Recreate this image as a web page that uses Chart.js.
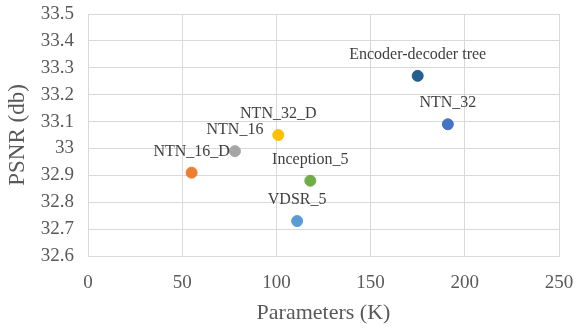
<!DOCTYPE html>
<html>
<head>
  <meta charset="utf-8">
  <title>PSNR vs Parameters</title>
  <script src="https://cdn.jsdelivr.net/npm/chart.js@4.4.0/dist/chart.umd.min.js"></script>
  <style>
    html, body { margin: 0; padding: 0; background: #ffffff; }
    #wrap { width: 576px; height: 329px; }
  </style>
</head>
<body>
<div id="wrap"><canvas id="canvas"></canvas></div>
<script>
// data
var models = ['Encoder-decoder tree', 'NTN_32', 'NTN_32_D', 'NTN_16', 'NTN_16_D', 'Inception_5', 'VDSR_5'];
var params = [175, 191, 101, 78, 55, 118, 111];
var psnr = [33.27, 33.09, 33.05, 32.99, 32.91, 32.88, 32.73];
var colors = ['#255E91', '#4472C4', '#FFC000', '#A5A5A5', '#ED7D31', '#70AD47', '#5B9BD5'];

var xTicks = [0, 50, 100, 150, 200, 250];
var yTicks = [32.6, 32.7, 32.8, 32.9, 33, 33.1, 33.2, 33.3, 33.4, 33.5];

var serif = "'Liberation Serif', 'Times New Roman', serif";

// names drawn above each point
var pointLabels = {
  id: 'pointLabels',
  afterDatasetsDraw: function(chart) {
    var ctx = chart.ctx;
    var meta = chart.getDatasetMeta(0);
    ctx.save();
    ctx.font = '16px ' + serif;
    ctx.fillStyle = '#404040';
    ctx.textAlign = 'center';
    ctx.textBaseline = 'middle';
    meta.data.forEach(function(pt, i) {
      ctx.fillText(models[i], pt.x, pt.y - 21);
    });
    ctx.restore();
  }
};

var pts = params.map(function(p, i) {
  return { x: p, y: psnr[i] };
});

new Chart(document.getElementById('canvas'), {
  type: 'scatter',
  data: {
    datasets: [{
      label: 'PSNR',
      data: pts,
      pointBackgroundColor: colors,
      pointBorderColor: colors,
      pointRadius: 5.5,
      pointHoverRadius: 5.5
    }]
  },
  options: {
    responsive: true,
    maintainAspectRatio: false,
    animation: false,
    layout: { padding: { top: 14, right: 17, left: 0, bottom: 0 } },
    plugins: {
      legend: { display: false },
      tooltip: { enabled: false }
    },
    scales: {
      x: {
        type: 'linear',
        min: xTicks[0],
        max: xTicks[xTicks.length - 1],
        afterBuildTicks: function(scale) {
          scale.ticks = xTicks.map(function(v) { return { value: v }; });
        },
        afterFit: function(scale) {
          scale.height = 73;
          scale.paddingLeft = 0;
          scale.paddingRight = 0;
        },
        grid: { color: '#d9d9d9', drawTicks: false },
        border: { color: '#d9d9d9' },
        ticks: {
          padding: 16,
          color: '#595959',
          font: { family: serif, size: 19 }
        },
        title: {
          display: true,
          text: 'Parameters (K)',
          color: '#595959',
          font: { family: serif, size: 22 },
          padding: { top: 0, bottom: 3 }
        }
      },
      y: {
        type: 'linear',
        min: yTicks[0],
        max: yTicks[yTicks.length - 1],
        afterBuildTicks: function(scale) {
          scale.ticks = yTicks.map(function(v) { return { value: v }; });
        },
        afterFit: function(scale) {
          scale.width = 88;
          scale.paddingTop = 0;
          scale.paddingBottom = 0;
        },
        grid: { color: '#d9d9d9', drawTicks: false },
        border: { color: '#d9d9d9' },
        ticks: {
          padding: 14,
          color: '#595959',
          font: { family: serif, size: 19 },
          callback: function(v) { return String(parseFloat(Number(v).toFixed(1))); }
        },
        title: {
          display: true,
          text: 'PSNR (db)',
          color: '#595959',
          font: { family: serif, size: 23 },
          padding: { top: 4, bottom: 0 }
        }
      }
    }
  },
  plugins: [pointLabels]
});
</script>
</body>
</html>
